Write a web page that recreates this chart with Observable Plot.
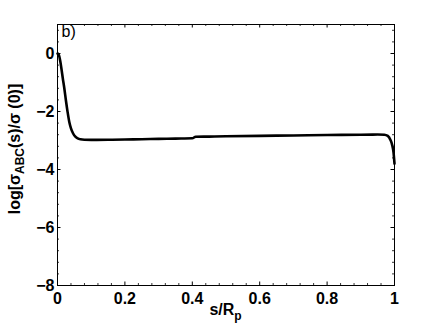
<!DOCTYPE html>
<html>
<head>
<meta charset="utf-8">
<script src="https://cdn.jsdelivr.net/npm/d3@7"></script>
<script src="https://cdn.jsdelivr.net/npm/@observablehq/plot@0.6"></script>
<style>
  html, body { margin: 0; padding: 0; background: #fff; }
  #chart svg { display: block; }
</style>
</head>
<body>
<div id="chart"></div>
<script>
// s / R_p
const sValues = [0, 0.004, 0.008, 0.012, 0.016, 0.02, 0.025, 0.03, 0.035, 0.04, 0.046, 0.053, 0.06, 0.068, 0.08, 0.1, 0.15, 0.2, 0.25, 0.3, 0.35, 0.4, 0.41, 0.45, 0.5, 0.6, 0.7, 0.8, 0.9, 0.95, 0.97, 0.98, 0.988, 0.993, 0.997, 1.0];
// log[sigma_ABC(s)/sigma(0)]
const logSigma = [0, -0.05, -0.25, -0.55, -0.88, -1.18, -1.62, -2.02, -2.36, -2.58, -2.75, -2.87, -2.93, -2.96, -2.975, -2.98, -2.975, -2.965, -2.955, -2.945, -2.935, -2.925, -2.87, -2.865, -2.855, -2.84, -2.825, -2.81, -2.80, -2.795, -2.80, -2.84, -2.98, -3.15, -3.4, -3.8];

const xMajor = [0, 0.2, 0.4, 0.6, 0.8, 1];
const yMajor = [-8, -6, -4, -2, 0];
const xMinorStep = 0.04;
const yMinorStep = 0.4;

const data = sValues.map((s, i) => ({s, v: logSigma[i]}));

const W = 436, H = 327;
const mL = 57, mR = 42, mT = 24, mB = 42;
const fw = W - mL - mR, fh = H - mT - mB;
const majLen = 3.5, minLen = 2;

const isMajor = (arr, v) => arr.some(m => Math.abs(m - v) < 1e-9);
const xMinor = d3.range(0, 1 + 1e-9, xMinorStep).map(v => +v.toFixed(4)).filter(v => !isMajor(xMajor, v));
const yMinor = d3.range(-8, 1 + 1e-9, yMinorStep).map(v => +v.toFixed(4)).filter(v => !isMajor(yMajor, v));

const fmtY = d => d < 0 ? "\u2212" + (-d) : String(d);

const plot = Plot.plot({
  width: W,
  height: H,
  marginLeft: mL,
  marginRight: mR,
  marginTop: mT,
  marginBottom: mB,
  style: {fontFamily: "'Liberation Sans', Arial, sans-serif", background: "#fff", color: "#000"},
  x: {domain: [0, 1]},
  y: {domain: [-8, 1]},
  marks: [
    // inward ticks, bottom & top
    Plot.tickX(xMajor, {x: d => d, insetTop: fh - majLen, stroke: "black", strokeWidth: 1}),
    Plot.tickX(xMajor, {x: d => d, insetBottom: fh - majLen, stroke: "black", strokeWidth: 1}),
    Plot.tickX(xMinor, {x: d => d, insetTop: fh - minLen, stroke: "black", strokeWidth: 0.8}),
    Plot.tickX(xMinor, {x: d => d, insetBottom: fh - minLen, stroke: "black", strokeWidth: 0.8}),
    // inward ticks, left & right
    Plot.tickY(yMajor, {y: d => d, insetRight: fw - majLen, stroke: "black", strokeWidth: 1}),
    Plot.tickY(yMajor, {y: d => d, insetLeft: fw - majLen, stroke: "black", strokeWidth: 1}),
    Plot.tickY(yMinor, {y: d => d, insetRight: fw - minLen, stroke: "black", strokeWidth: 0.8}),
    Plot.tickY(yMinor, {y: d => d, insetLeft: fw - minLen, stroke: "black", strokeWidth: 0.8}),
    Plot.axisX({ticks: xMajor, tickSize: 0, tickPadding: 7, tickFormat: d => String(d), fontSize: 16, fontWeight: "bold", label: null}),
    Plot.axisY({ticks: yMajor, tickSize: 0, tickPadding: 3, tickFormat: fmtY, fontSize: 16, fontWeight: "bold", label: null}),
    Plot.frame({stroke: "black", strokeWidth: 1}),
    Plot.line(data, {x: "s", y: "v", stroke: "black", strokeWidth: 2.6, curve: "monotone-x"}),
    Plot.text(["b)"], {frameAnchor: "top-left", dx: 4, dy: 1, fontSize: 16, textAnchor: "start", lineAnchor: "top"})
  ]
});

const svg = d3.select(plot);
// x label: s/R_p
const xl = svg.append("text")
  .attr("x", mL + fw / 2)
  .attr("y", 315)
  .attr("text-anchor", "middle")
  .attr("font-family", "'Liberation Sans', Arial, sans-serif")
  .attr("font-size", 16)
  .attr("font-weight", "bold")
  .attr("fill", "black");
xl.append("tspan").text("s/R");
xl.append("tspan").attr("font-size", 12).attr("dy", 5).text("p");

// y label: log[σ_ABC(s)/σ (0)]
const yl = svg.append("text")
  .attr("transform", "translate(20,149) rotate(-90)")
  .attr("text-anchor", "middle")
  .attr("font-family", "'Liberation Sans', Arial, sans-serif")
  .attr("font-size", 16)
  .attr("font-weight", "bold")
  .attr("fill", "black");
yl.append("tspan").text("log[\u03C3");
yl.append("tspan").attr("font-size", 12).attr("dy", 3.5).text("ABC");
yl.append("tspan").attr("dy", -3.5).text("(s)/\u03C3 (0)]");

document.getElementById("chart").appendChild(plot);
</script>
</body>
</html>
